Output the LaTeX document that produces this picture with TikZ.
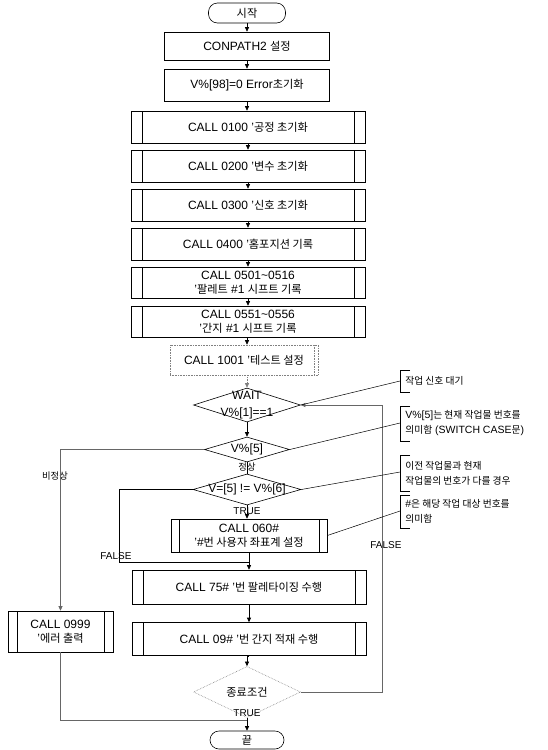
\documentclass[tikz,border=0pt]{standalone}
\usepackage{fontspec}
\setmainfont{Liberation Sans}
\newfontfamily\kr{Noto Sans CJK KR}[Scale=0.93]
\usetikzlibrary{shapes.geometric,arrows.meta}
\newcommand\K[1]{{\kr #1}}
\begin{document}
\begin{tikzpicture}[x=1pt,y=-1pt,
  font=\fontsize{12}{14.4}\selectfont,
  line width=0.6pt,
  >={Triangle[length=4.5pt,width=4pt]},
  proc/.style={draw, rectangle, align=center, inner sep=1pt, minimum width=165pt},
  sub/.style={draw, rectangle, align=center, inner sep=1pt,
    path picture={\draw[line width=0.6pt]
      ([xshift=#1]path picture bounding box.north west) -- ([xshift=#1]path picture bounding box.south west)
      ([xshift=-#1]path picture bounding box.north east) -- ([xshift=-#1]path picture bounding box.south east);}},
  wide/.style={sub=11pt, minimum width=234pt},
  term/.style={draw, rectangle, rounded corners=9pt, inner sep=1pt},
  dec/.style={draw, diamond, inner sep=0pt},
  dotbox/.style={draw=gray, densely dotted},
  lbl/.style={font=\fontsize{10}{12}\selectfont, inner sep=0pt},
  note/.style={font=\fontsize{10.5}{15}\selectfont, anchor=west, align=left, inner sep=0pt},
  flow/.style={->},
  side/.style={draw=gray!80!black},
  brk/.style={line width=0.5pt}
]
\useasboundingbox (0,0) rectangle (548,750);

% main column
\node[term, minimum width=77pt, minimum height=20pt] (start) at (247,13) {\K{시작}};
\node[proc, minimum height=28pt] (conpath) at (247,46) {CONPATH2 \K{설정}};
\node[proc, minimum height=32pt] (v98) at (247,85) {V\%[98]=0 Error\K{초기화}};
\node[wide, minimum height=32pt] (c0100) at (248,127) {CALL 0100 '\K{공정 초기화}};
\node[wide, minimum height=32pt] (c0200) at (248,166) {CALL 0200 '\K{변수 초기화}};
\node[wide, minimum height=32pt] (c0300) at (248,205) {CALL 0300 '\K{신호 초기화}};
\node[wide, minimum height=32pt] (c0400) at (248,244) {CALL 0400 '\K{홈포지션 기록}};
\node[wide, minimum height=31pt] (c0501) at (248,282.5) {CALL 0501\textasciitilde 0516\\'\K{팔레트} \#1 \K{시프트 기록}};
\node[wide, minimum height=31pt] (c0551) at (248,321.5) {CALL 0551\textasciitilde 0556\\'\K{간지} \#1 \K{시프트 기록}};
\node[dotbox, minimum width=148pt, minimum height=30pt, inner sep=1pt,
  path picture={\draw[gray, densely dotted] ([xshift=-4pt]path picture bounding box.north east) -- ([xshift=-4pt]path picture bounding box.south east);}]
  (c1001) at (244,360) {CALL 1001 '\K{테스트 설정}};

\node[dec, minimum width=107pt, minimum height=34pt] (wait) at (247,405) {};
\node[align=center, inner sep=0pt] (waitt) at (247,405) {WAIT\\[2pt]V\%[1]==1};
\node[dec, minimum width=85pt, minimum height=25pt] (v5) at (247,449.5) {};
\node[inner sep=0pt] (v5t) at (247,449.5) {V\%[5]};
\node[dec, minimum width=108pt, minimum height=31pt] (v56) at (247,489.5) {};
\node[inner sep=0pt] (v56t) at (247,489.5) {V=[5] != V\%[6]};

\node[sub=8pt, minimum width=156pt, minimum height=33pt] (c060) at (249,535.5) {CALL 060\#\\'\#\K{번 사용자 좌표계 설정}};
\node[wide, minimum height=34pt] (c75) at (249,587) {CALL 75\# '\K{번 팔레타이징 수행}};
\node[wide, minimum height=33pt] (c09) at (249,639) {CALL 09\# '\K{번 간지 적재 수행}};
\node[dec, draw=gray, densely dotted, minimum width=107pt, minimum height=32pt] (endc) at (247,692) {\K{종료조건}};
\node[term, minimum width=74pt, minimum height=18pt] (end) at (247,740) {\K{끝}};

\node[sub=9pt, minimum width=105pt, minimum height=41pt] (c0999) at (60.5,631.5) {CALL 0999\\'\K{에러 출력}};

% labels
\node[lbl] (lnorm) at (247,467) {\K{정상}};
\node[lbl] (labn) at (55,476) {\K{비정상}};
\node[lbl] (ltrue1) at (247,511) {TRUE};
\node[lbl] (lfalse1) at (116,556) {FALSE};
\node[lbl] (lfalse2) at (386,545) {FALSE};
\node[lbl] (ltrue2) at (247,713) {TRUE};

% coordinates
\coordinate (fl) at (119,562);
\coordinate (fj) at (249,562);
\coordinate (jn) at (247,720);
\coordinate (rl) at (382,405);

% main flow
\draw[flow] (start) -- (conpath);
\draw[flow] (conpath) -- (v98);
\draw[flow] (v98.south) -- (v98.south |- c0100.north);
\draw[flow] (c0100) -- (c0200);
\draw[flow] (c0200) -- (c0300);
\draw[flow] (c0300) -- (c0400);
\draw[flow] (c0400) -- (c0501);
\draw[flow] (c0501) -- (c0551);
\draw[flow] (c0551.south -| v98.south) -- (v98.south |- c1001.north);
\draw[->, gray, densely dotted] (wait.north |- c1001.south) -- (wait.north);
\draw[flow] (wait.south) -- (v5.north);
\draw (v5.south) -- (v56.north);
\draw[flow] (v56.south) -- (v56.south |- c060.north);
\draw (v56.west) -| (fl) -- (fj);
\draw[flow] (c060.south -| fj) -- (fj |- c75.north);
\draw[flow] (c75) -- (c09);
\draw[flow] (c09.south) -- (c09.south -| endc.north) -- (endc.north);
\draw[flow] (endc.south) -- (end.north);
\draw[side, ->] (v5.west) -| (c0999.north);
\draw[side] (c0999.south) |- (jn);
\draw[side, ->] (endc.east) -| (rl) -- (wait.east);

% notes
\node[note] (n1) at (405,381) {\K{작업 신호 대기}};
\node[note] (n2) at (405,423) {V\%[5]\K{는 현재 작업물 번호를}\\\K{의미함} (SWITCH CASE\K{문})};
\node[note] (n3) at (405,473) {\K{이전 작업물과 현재}\\\K{작업물의 번호가 다를 경우}};
\node[note] (n4) at (405,511) {\#\K{은 해당 작업 대상 번호를}\\\K{의미함}};

\coordinate (b1) at (400,381);
\coordinate (b2) at (400,423);
\coordinate (b3) at (400,472);
\coordinate (b4) at (400,511);
\draw[brk] (410,370) -- (400,370) -- (400,392) -- (410,392);
\draw[brk] (410,406) -- (400,406) -- (400,441) -- (410,441);
\draw[brk] (410,455) -- (400,455) -- (400,491) -- (410,491);
\draw[brk] (410,495) -- (400,495) -- (400,528) -- (410,528);
\draw[brk] (wait.east) -- (b1);
\draw[brk] (v5.east) -- (b2);
\draw[brk] (v56.east) -- (b3);
\draw[brk] (c060.east) -- (b4);
\end{tikzpicture}
\end{document}
